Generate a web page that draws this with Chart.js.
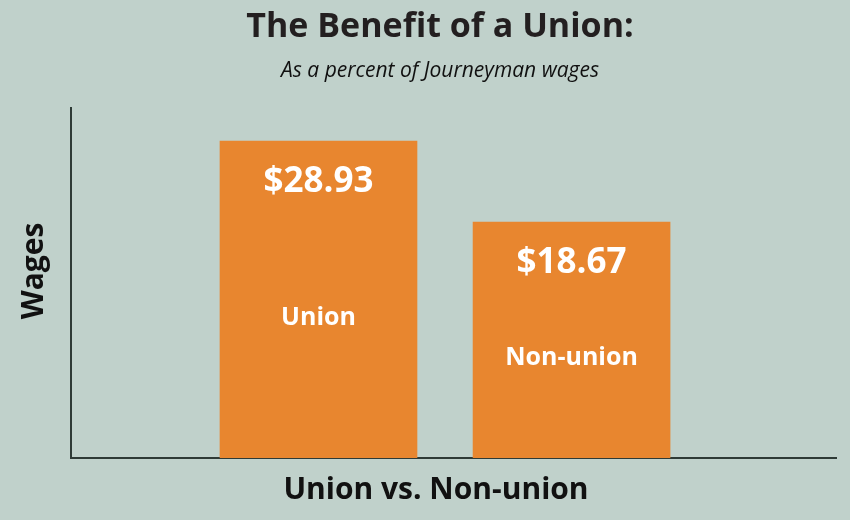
<!DOCTYPE html>
<html>
<head>
<meta charset="utf-8">
<title>The Benefit of a Union</title>
<script src="https://cdn.jsdelivr.net/npm/chart.js@4/dist/chart.umd.min.js"></script>
<style>
    html, body { margin: 0; padding: 0; background: #c0d1cb; }
    #wrap { width: 850px; height: 520px; }
</style>
</head>
<body>
<div id="wrap"><canvas id="unionChart" width="850" height="520"></canvas></div>
<script>
// Dữ liệu biểu đồ
const categories = ['Union', 'Non-union'];
const wages = [28.93, 18.67];
const chartTitle = 'The Benefit of a Union:';
const chartSubtitle = 'As a percent of Journeyman wages';
const xTitle = 'Union vs. Non-union';
const yTitle = 'Wages';

// Trục Y không bắt đầu từ 0 (giống hình gốc)
const yMin = -11.22;
const yMax = 33.11;

const fontFamily = "'Open Sans', 'DejaVu Sans', sans-serif";

// Nhãn trong cột: giá trị + tên
const barLabels = {
    id: 'barLabels',
    afterDatasetsDraw(chart) {
        const ctx = chart.ctx;
        const meta = chart.getDatasetMeta(0);
        ctx.save();
        ctx.fillStyle = '#ffffff';
        ctx.textAlign = 'center';
        ctx.textBaseline = 'alphabetic';
        meta.data.forEach((bar, i) => {
            ctx.font = 'bold 35px ' + fontFamily;
            ctx.fillText('$' + wages[i].toFixed(2), bar.x, bar.y + 51);
            ctx.font = 'bold 25px ' + fontFamily;
            ctx.fillText(categories[i], bar.x, (bar.y + bar.base) / 2 + 25);
        });
        ctx.restore();
    }
};

// Tiêu đề trục
const axisTitles = {
    id: 'axisTitles',
    afterDraw(chart) {
        const ctx = chart.ctx;
        ctx.save();
        ctx.fillStyle = '#111111';
        ctx.font = 'bold 30px ' + fontFamily;
        ctx.textAlign = 'center';
        ctx.textBaseline = 'alphabetic';
        ctx.fillText(xTitle, 436, 499);
        ctx.translate(43, 271);
        ctx.rotate(-Math.PI / 2);
        ctx.fillText(yTitle, 0, 0);
        ctx.restore();
    }
};

const ctx = document.getElementById('unionChart').getContext('2d');
new Chart(ctx, {
    type: 'bar',
    data: {
        datasets: [{
            label: 'Wages',
            data: categories.map((c, i) => ({ x: i + 1, y: wages[i] })),
            backgroundColor: '#e8862f',
            borderWidth: 0,
            barThickness: 197,
            base: yMin
        }]
    },
    options: {
        responsive: false,
        animation: false,
        layout: {
            padding: { top: 0, left: 44, right: 14, bottom: 62 }
        },
        plugins: {
            legend: { display: false },
            tooltip: { enabled: false },
            title: {
                display: true,
                text: chartTitle,
                color: '#231f20',
                font: { family: fontFamily, size: 34, weight: 'bold' },
                padding: { top: 7, bottom: 0 }
            },
            subtitle: {
                display: true,
                text: chartSubtitle,
                color: '#111111',
                font: { family: fontFamily, size: 21, style: 'italic' },
                padding: { top: 10.6, bottom: 24.4 }
            }
        },
        scales: {
            x: {
                type: 'linear',
                offset: false,
                min: 0.022,
                max: 3.045,
                grid: { display: false, drawTicks: false, offset: false },
                ticks: { display: false },
                border: { display: true, color: '#2e3a36', width: 2 }
            },
            y: {
                min: yMin,
                max: yMax,
                grid: { display: false, drawTicks: false },
                ticks: { display: false },
                border: { display: true, color: '#2e3a36', width: 2 },
                afterFit: (scale) => { scale.width = 27; }
            }
        }
    },
    plugins: [barLabels, axisTitles]
});
</script>
</body>
</html>
